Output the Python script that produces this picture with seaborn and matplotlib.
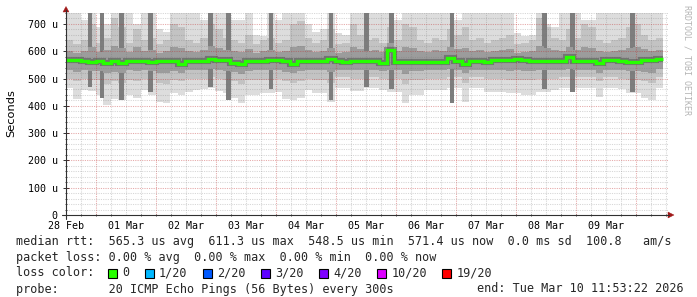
import numpy as np
import matplotlib
matplotlib.use("Agg")
import matplotlib.pyplot as plt
from matplotlib.patches import Rectangle, Polygon
from matplotlib.lines import Line2D
import seaborn as sns

# ---------------- data ----------------
t_start_h = 11.9      # Feb 28 11:53 as hours after Feb 28 00:00
t_end_h = 250.7       # last consolidated sample

median_us = [566, 567, 564, 562, 564, 556, 564, 558, 565, 565,
             564, 561, 564, 563, 563, 554, 564, 565, 563, 571,
             567, 566, 558, 552, 564, 565, 564, 568, 566, 564,
             552, 565, 564, 565, 565, 571, 564, 562, 563, 564,
             564, 563, 557, 606, 560, 559, 559, 560, 561, 561,
             562, 575, 565, 555, 565, 564, 560, 568, 567, 568,
             572, 566, 565, 564, 565, 565, 565, 578, 565, 564,
             565, 556, 566, 566, 565, 561, 561, 569, 568, 570]

smoke_min = [464, 425, 458, 455, 440, 403, 425, 421, 440, 430,
             458, 440, 415, 409, 446, 440, 450, 458, 460, 464,
             455, 446, 430, 409, 440, 440, 446, 446, 452, 425,
             421, 430, 458, 446, 446, 415, 464, 464, 455, 455,
             464, 464, 458, 450, 452, 410, 440, 440, 458, 458,
             458, 464, 464, 415, 464, 464, 452, 452, 452, 446,
             446, 440, 440, 452, 452, 458, 464, 464, 464, 464,
             464, 434, 464, 464, 460, 446, 446, 430, 421, 464]

smoke_lo3 = [500, 490, 500, 495, 495, 480, 490, 485, 495, 490,
             500, 495, 485, 480, 495, 490, 500, 500, 500, 505,
             500, 495, 490, 480, 495, 495, 495, 495, 500, 490,
             485, 490, 500, 495, 495, 485, 505, 505, 500, 500,
             505, 505, 500, 495, 500, 480, 495, 495, 500, 500,
             500, 505, 505, 485, 505, 505, 500, 500, 500, 495,
             495, 495, 495, 500, 500, 500, 505, 505, 505, 505,
             505, 490, 505, 505, 500, 495, 495, 490, 485, 505]

smoke_lo2 = [530, 525, 530, 528, 528, 520, 525, 522, 530, 527,
             530, 528, 522, 520, 528, 522, 530, 530, 530, 535,
             532, 528, 525, 518, 528, 530, 530, 530, 530, 525,
             520, 527, 530, 530, 530, 525, 532, 532, 530, 530,
             532, 532, 528, 530, 530, 518, 528, 528, 530, 530,
             530, 535, 532, 520, 532, 532, 530, 530, 532, 528,
             530, 528, 528, 530, 530, 530, 532, 535, 532, 532,
             532, 522, 532, 532, 530, 528, 528, 525, 522, 535]

smoke_hi2 = [600, 595, 600, 615, 598, 605, 620, 612, 598, 615,
             600, 605, 595, 600, 615, 612, 600, 598, 605, 618,
             612, 605, 600, 598, 608, 595, 600, 605, 598, 600,
             615, 618, 605, 598, 600, 612, 595, 598, 615, 608,
             600, 605, 598, 630, 600, 615, 612, 600, 598, 605,
             600, 615, 608, 612, 600, 605, 598, 600, 605, 608,
             595, 598, 600, 620, 612, 605, 600, 615, 605, 615,
             612, 600, 598, 600, 605, 612, 615, 608, 600, 605]

smoke_hi3 = [640, 625, 640, 700, 630, 650, 720, 690, 630, 680,
             640, 650, 625, 640, 700, 690, 640, 630, 650, 700,
             680, 650, 640, 630, 660, 625, 640, 650, 630, 640,
             700, 710, 650, 630, 640, 680, 625, 630, 700, 660,
             640, 650, 630, 690, 640, 700, 690, 640, 630, 650,
             640, 680, 660, 690, 640, 650, 630, 640, 650, 660,
             625, 630, 640, 720, 690, 650, 640, 680, 650, 700,
             690, 640, 630, 640, 650, 690, 700, 660, 640, 650]

smoke_max = [745, 745, 714, 745, 690, 700, 745, 745, 745, 700,
             745, 745, 680, 670, 745, 745, 745, 745, 714, 745,
             745, 745, 714, 714, 745, 660, 655, 745, 714, 745,
             745, 745, 700, 670, 680, 745, 665, 660, 745, 745,
             745, 745, 745, 745, 714, 745, 745, 745, 745, 745,
             745, 745, 714, 745, 745, 745, 745, 745, 745, 745,
             665, 655, 660, 745, 700, 690, 745, 745, 745, 714,
             714, 745, 745, 745, 745, 745, 745, 745, 745, 745]

# narrow high-spread samples (dark vertical streaks)
streak_hour = [21.5, 26.4, 34.0, 45.7, 69.8, 77.0, 93.9, 118.0, 132.1, 142.2,
               166.3, 203.3, 214.5, 238.6]
streak_lo = [470, 430, 420, 450, 470, 420, 460, 420, 470, 460,
             410, 460, 450, 450]
streak_hi = [745, 745, 745, 745, 745, 745, 745, 745, 745, 745,
             745, 745, 745, 745]

day_labels = ["28 Feb", "01 Mar", "02 Mar", "03 Mar", "04 Mar",
              "05 Mar", "06 Mar", "07 Mar", "08 Mar", "09 Mar"]
y_tick_values = [0, 100, 200, 300, 400, 500, 600, 700]
y_tick_labels = ["0", "100 u", "200 u", "300 u", "400 u", "500 u", "600 u", "700 u"]

loss_labels = ["0", "1/20", "2/20", "3/20", "4/20", "10/20", "19/20"]
loss_colors = ["#26ff00", "#00b8ff", "#0059ff", "#5e00ff", "#7e00ff", "#dd00ff", "#ff0000"]

legend_rtt = "median rtt:  565.3 us avg  611.3 us max  548.5 us min  571.4 us now  0.0 ms sd  100.8   am/s"
legend_loss = "packet loss: 0.00 % avg  0.00 % max  0.00 % min  0.00 % now"
legend_probe = "probe:       20 ICMP Echo Pings (56 Bytes) every 300s"
legend_end = "end: Tue Mar 10 11:53:22 2026"

# ---------------- figure ----------------
W, H, DPI = 697, 297, 100
sns.set_theme(style="white")
plt.rcParams["font.family"] = ["DejaVu Sans"]
MONO = "DejaVu Sans Mono"

fig = plt.figure(figsize=(W / DPI, H / DPI), dpi=DPI)
fig.patch.set_facecolor("white")

L, R, T, B = 66, 668, 13, 215
PX_PER_H = 2.5
x_left = t_start_h
x_right = t_start_h + (R - L) / PX_PER_H
ax = fig.add_axes([L / W, 1 - B / H, (R - L) / W, (B - T) / H])
ax.set_facecolor("white")
ax.set_xlim(x_left, x_right)
ax.set_ylim(0, 740)
for s in ax.spines.values():
    s.set_visible(False)

n = len(median_us)
edges = np.linspace(t_start_h, t_end_h, n + 1)


def ext(a):
    a = np.asarray(a, dtype=float)
    return np.append(a, a[-1])


ax.fill_between(edges, ext(smoke_min), ext(smoke_max), step="post",
                color="#dddddd", lw=0, zorder=1)
ax.fill_between(edges, ext(smoke_lo3), ext(smoke_hi3), step="post",
                color="#c3c3c3", lw=0, zorder=1.2)
ax.bar(streak_hour, np.array(streak_hi) - np.array(streak_lo), bottom=streak_lo,
       width=1.8, color="#7e7e7e", lw=0, zorder=1.4)
ax.fill_between(edges, ext(smoke_lo2), ext(smoke_hi2), step="post",
                color="#9c9c9c", lw=0, zorder=1.6)

# grid (semi-transparent, drawn over the smoke)
red = (0.75, 0.15, 0.15, 0.38)
gray = (0.45, 0.45, 0.45, 0.28)
for h in np.arange(0, 260, 6):
    if h <= x_left or h >= x_right:
        continue
    major = (h % 24 == 0)
    ax.axvline(h, color=red if major else gray, lw=0.75,
               dashes=(1.1, 1.1), zorder=3)
for v in range(20, 741, 20):
    major = (v % 100 == 0)
    ax.axhline(v, color=red if major else gray, lw=0.75,
               dashes=(1.1, 1.1), zorder=3)

# median line with dark core beneath
sns.lineplot(x=edges, y=ext(median_us), drawstyle="steps-post", color="#444444",
             lw=4.4, alpha=0.45, ax=ax, zorder=4, sort=False, estimator=None,
             solid_joinstyle="miter", solid_capstyle="butt")
sns.lineplot(x=edges, y=ext(median_us), drawstyle="steps-post", color=loss_colors[0],
             lw=2.4, ax=ax, zorder=5, sort=False, estimator=None,
             solid_joinstyle="miter", solid_capstyle="butt")

# ticks
ax.set_yticks(y_tick_values, labels=y_tick_labels)
ax.set_yticks(list(range(0, 741, 20)), minor=True)
ax.set_xticks([12 + 24 * i for i in range(len(day_labels))], labels=day_labels)
ax.set_xticks([h for h in range(12, 253, 6)], minor=True)
ax.tick_params(axis="y", which="major", length=4, width=0.7, direction="inout",
               color="#303030", pad=4, labelsize=7.2, labelcolor="black", left=True)
ax.tick_params(axis="y", which="minor", length=2, width=0.6, direction="inout",
               color="#303030", left=True)
ax.tick_params(axis="x", which="major", length=0, pad=4.5, labelsize=7.2,
               labelcolor="black", bottom=True)
ax.tick_params(axis="x", which="minor", length=2, width=0.6, direction="inout",
               color="#303030", bottom=True)
for lbl in ax.get_yticklabels() + ax.get_xticklabels():
    lbl.set_family(MONO)
ax.set_xlabel("")
ax.set_ylabel("")


def P(x, y):
    return (x / W, 1 - y / H)


# axis lines + arrows
axis_col = "#303030"
fig.add_artist(Line2D([P(66, 0)[0]] * 2, [P(0, 219)[1], P(0, 10)[1]],
                      color=axis_col, lw=0.8))
fig.add_artist(Line2D([P(62, 0)[0], P(669, 0)[0]], [P(0, 215)[1]] * 2,
                      color=axis_col, lw=0.8))
arrow_col = "#a01818"
fig.add_artist(Polygon([P(63, 12), P(69, 12), P(66, 6.5)], closed=True,
                       transform=fig.transFigure, fc=arrow_col, ec=arrow_col, lw=0.3))
fig.add_artist(Polygon([P(668, 212), P(668, 218), P(674, 215)], closed=True,
                       transform=fig.transFigure, fc=arrow_col, ec=arrow_col, lw=0.3))

# y axis title
fig.text(*P(11, 113), "Seconds", rotation=90, ha="center", va="center",
         fontsize=8.2, family="DejaVu Sans", color="black")

# watermark
fig.text(*P(687, 60), "RRDTOOL / TOBI OETIKER", rotation=-90, ha="center",
         va="center", fontsize=6, family=MONO, color="#b4b4b4")

# legend text
FS = 8.5
fig.text(*P(16, 241), legend_rtt, ha="left", va="center", fontsize=FS, family=MONO)
fig.text(*P(16, 257), legend_loss, ha="left", va="center", fontsize=FS, family=MONO)
fig.text(*P(16, 273), "loss color:", ha="left", va="center", fontsize=FS, family=MONO)
fig.text(*P(16, 289), legend_probe, ha="left", va="center", fontsize=FS, family=MONO)
fig.text(*P(684, 289), legend_end, ha="right", va="center", fontsize=FS, family=MONO)

CH = 7.1
xb = 108.0
for lab, col in zip(loss_labels, loss_colors):
    x0, y0 = P(xb, 273 + 4.5)
    fig.add_artist(Rectangle((x0, y0), 9 / W, 9 / H, transform=fig.transFigure,
                             fc=col, ec="black", lw=0.8))
    fig.text(*P(xb + 14, 273), lab, ha="left", va="center", fontsize=FS, family=MONO)
    xb = xb + 14 + len(lab) * CH + 15.7

fig.savefig("out.png", dpi=DPI, facecolor="white")
